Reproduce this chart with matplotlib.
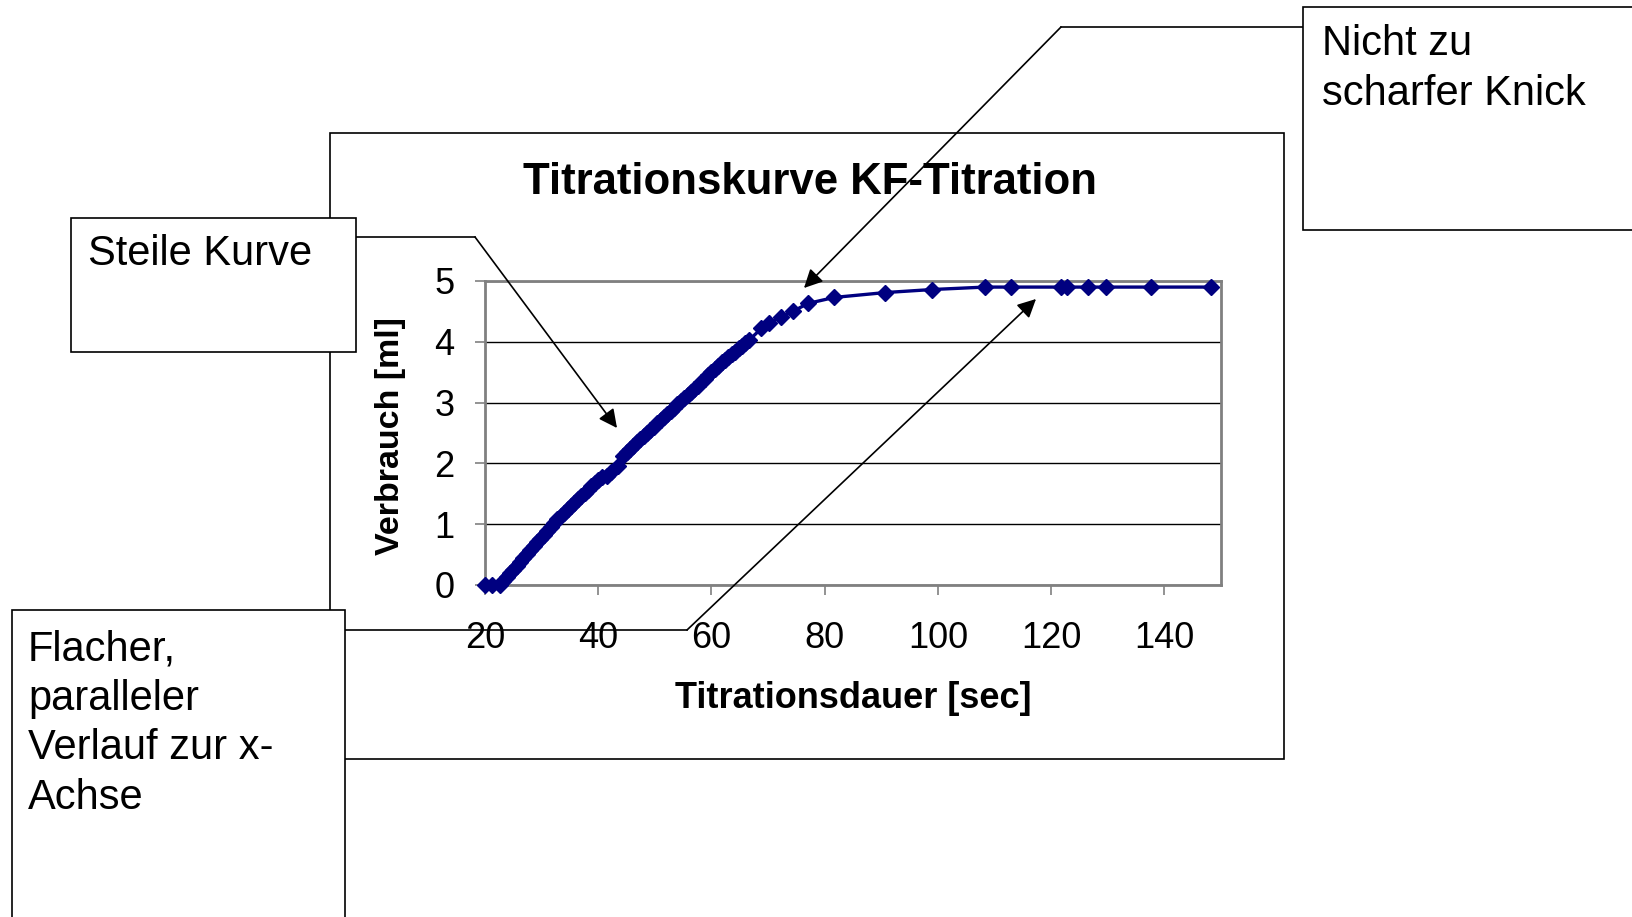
import matplotlib.pyplot as plt
from matplotlib.patches import Rectangle, FancyArrowPatch
from matplotlib.lines import Line2D

plt.rcParams['font.family'] = ['Liberation Sans', 'DejaVu Sans']

# Titrationsdauer [sec]
zeit = [20.0, 21.2, 22.6,
        23.2, 23.8, 24.4, 25.0, 25.6, 26.2, 26.8, 27.4, 28.0, 28.6,
        29.2, 29.8, 30.4, 31.0, 31.6, 32.2, 32.8, 33.4, 34.0, 34.6,
        35.2, 35.8, 36.4, 37.0, 37.6, 38.2, 38.8, 39.4, 40.0, 40.6,
        41.5, 42.3, 43.5, 44.4,
        45.0, 45.6, 46.2, 46.8, 47.4, 48.0, 48.6, 49.2, 49.8, 50.4,
        51.0, 51.6, 52.2, 52.8, 53.4, 54.0, 54.6, 55.2, 55.8, 56.4,
        57.0, 57.6, 58.2, 58.8, 59.4, 60.0, 60.6, 61.2, 61.8, 62.4,
        63.0, 63.6, 64.2, 64.8, 65.4, 66.0, 66.7,
        68.8, 70.1, 72.3, 74.4, 77.0, 81.7, 90.7, 99.0,
        108.3, 112.9, 121.7, 122.8, 126.5, 129.7, 137.7, 148.2]
# Verbrauch [ml]
verbrauch = [0.0, 0.0, 0.0,
             0.06, 0.13, 0.19, 0.25, 0.32, 0.38, 0.45, 0.51, 0.57, 0.64,
             0.70, 0.76, 0.83, 0.89, 0.95, 1.02, 1.08, 1.14, 1.19, 1.25,
             1.30, 1.35, 1.41, 1.46, 1.52, 1.57, 1.63, 1.68, 1.73, 1.77,
             1.80, 1.86, 1.95, 2.12,
             2.19, 2.24, 2.29, 2.35, 2.40, 2.45, 2.50, 2.55, 2.60, 2.66,
             2.71, 2.76, 2.81, 2.86, 2.91, 2.97, 3.02, 3.07, 3.12, 3.17,
             3.23, 3.28, 3.34, 3.39, 3.45, 3.50, 3.56, 3.61, 3.66, 3.70,
             3.75, 3.80, 3.84, 3.89, 3.93, 3.98, 4.03,
             4.22, 4.31, 4.41, 4.50, 4.63, 4.73, 4.81, 4.86,
             4.90, 4.90, 4.90, 4.90, 4.90, 4.90, 4.90, 4.90]

x_ticks = [20, 40, 60, 80, 100, 120, 140]
y_ticks = [0, 1, 2, 3, 4, 5]

titel = 'Titrationskurve KF-Titration'
x_label = 'Titrationsdauer [sec]'
y_label = 'Verbrauch [ml]'
notiz_steil = 'Steile Kurve'
notiz_knick = 'Nicht zu\nscharfer Knick'
notiz_flach = 'Flacher,\nparalleler\nVerlauf zur x-\nAchse'

W, H = 1632, 917
fig = plt.figure(figsize=(W / 100, H / 100), dpi=100)


def fx(x):
    return x / W


def fy(y):
    return 1 - y / H


def rect(x0, y0, x1, y1, z):
    r = Rectangle((fx(x0), fy(y1)), fx(x1) - fx(x0), fy(y0) - fy(y1),
                  transform=fig.transFigure, facecolor='white',
                  edgecolor='black', linewidth=1.2, zorder=z)
    fig.add_artist(r)


def leader(pts, tip):
    xs = [fx(p[0]) for p in pts]
    ys = [fy(p[1]) for p in pts]
    fig.add_artist(Line2D(xs, ys, transform=fig.transFigure, color='black',
                          linewidth=1.2, zorder=5))
    fig.add_artist(FancyArrowPatch((xs[-1], ys[-1]), (fx(tip[0]), fy(tip[1])),
                                   transform=fig.transFigure,
                                   arrowstyle='-|>', mutation_scale=28,
                                   color='black', linewidth=1.2,
                                   shrinkA=0, shrinkB=0, zorder=5))


# chart frame
rect(330, 133, 1284, 759, -1)

# plot area
ax = fig.add_axes([fx(485), fy(585), fx(1221) - fx(485), fy(281) - fy(585)])
ax.plot(zeit, verbrauch, color='#000080', linewidth=2.4, marker='D',
        markersize=8, zorder=3, clip_on=False)
ax.set_xlim(20, 150)
ax.set_ylim(0, 5)
ax.set_xticks(x_ticks)
ax.set_yticks(y_ticks)
ax.yaxis.grid(True, color='black', linewidth=1.0)
for s in ax.spines.values():
    s.set_color('#808080')
    s.set_linewidth(2)
ax.tick_params(axis='both', direction='out', length=7, width=1.2,
               color='#808080', labelsize=26)
ax.tick_params(axis='y', pad=15)
ax.tick_params(axis='x', pad=19)

fig.text(fx(810), fy(183), titel, fontsize=31.5, fontweight='bold',
         ha='center', va='center')
fig.text(fx(853), fy(699), x_label, fontsize=26, fontweight='bold',
         ha='center', va='center')
fig.text(fx(390), fy(436), y_label, fontsize=24.5, fontweight='bold',
         ha='center', va='center', rotation=90)

# annotations
leader([(356, 237), (475, 237)], (617, 428))
leader([(1303, 27), (1061, 27)], (804, 288))
leader([(345, 630), (687, 630)], (1036, 299))

rect(71, 218, 356, 352, 6)
rect(1303, 7, 1645, 230, 6)
rect(11.5, 610, 345, 930, 6)

fig.text(fx(88), fy(254), notiz_steil, fontsize=30, ha='left', va='center',
         zorder=7)
fig.text(fx(1322), fy(24), notiz_knick, fontsize=30, ha='left', va='top',
         linespacing=1.31, zorder=7)
fig.text(fx(28), fy(629), notiz_flach, fontsize=30, ha='left', va='top',
         linespacing=1.31, zorder=7)

fig.savefig('out.png', dpi=100)
